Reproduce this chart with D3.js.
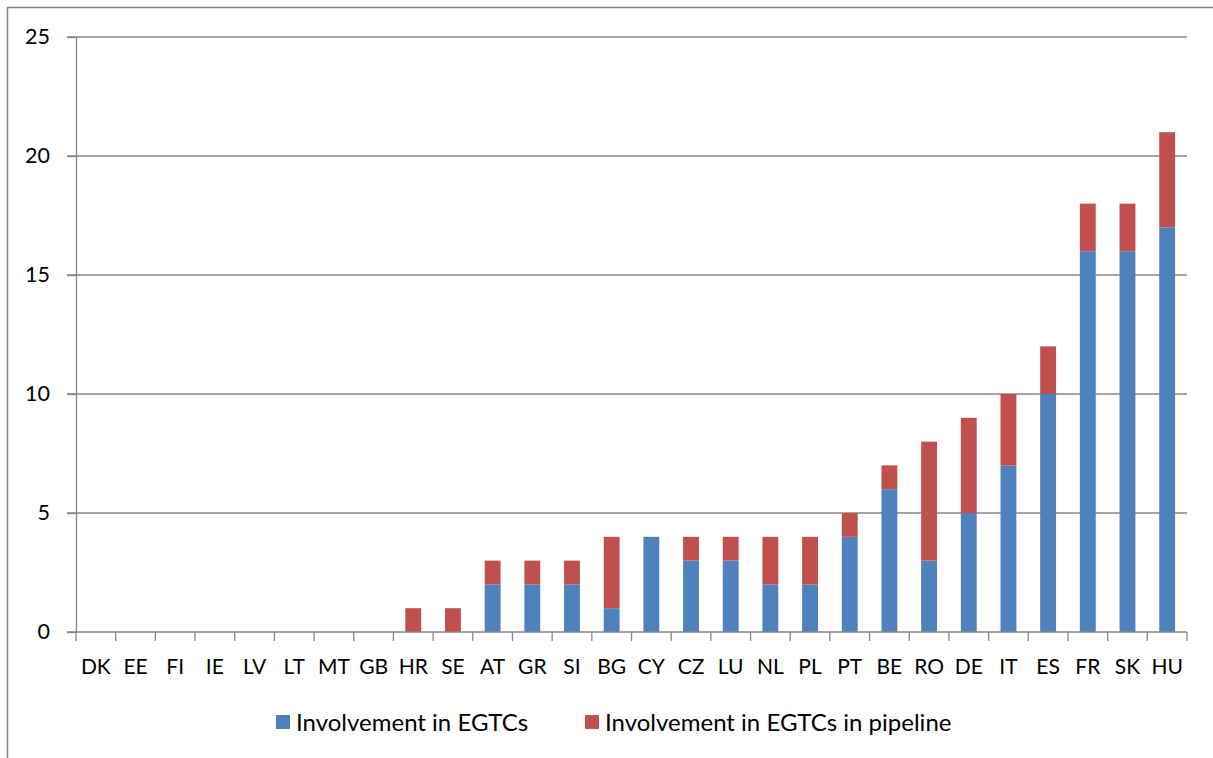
<!DOCTYPE html>
<html lang="en">
<head>
<meta charset="UTF-8">
<script src="https://d3js.org/d3.v7.min.js"></script>
<style>
  body { margin: 0; background: #fff; }
  text { font-family: Lato, "Open Sans", sans-serif; fill: #000; }
  .grid line { stroke: #868686; stroke-width: 1.3px; }
  .axis path, .axis line { stroke: #868686; stroke-width: 1.3px; }
</style>
</head>
<body>
<script>
// data
const countries = ["DK","EE","FI","IE","LV","LT","MT","GB","HR","SE","AT","GR","SI","BG","CY","CZ","LU","NL","PL","PT","BE","RO","DE","IT","ES","FR","SK","HU"];
const involved  = [0,0,0,0,0,0,0,0,0,0,2,2,2,1,4,3,3,2,2,4,6,3,5,7,10,16,16,17];
const pipeline  = [0,0,0,0,0,0,0,0,1,1,1,1,1,3,0,1,1,2,2,1,1,5,4,3,2,2,2,4];
const yTicks = [0,5,10,15,20,25];
const seriesNames = ["Involvement in EGTCs", "Involvement in EGTCs in pipeline"];
const seriesColors = ["#4F81BD", "#C0504D"];

const W = 1213, H = 758;
const plotL = 76, plotR = 1187, plotT = 37, plotB = 632;

const svg = d3.select("body").append("svg")
  .attr("width", W).attr("height", H);

// outer chart frame
svg.append("path")
  .attr("d", "M7.5," + H + "V7.5H" + W)
  .attr("fill", "none")
  .attr("stroke", "#868686")
  .attr("stroke-width", 1.5);

const x = d3.scaleBand().domain(countries).range([plotL, plotR]).paddingInner(0.6).paddingOuter(0.3);
const xTick = d3.scaleBand().domain(countries).range([plotL, plotR]);
const y = d3.scaleLinear().domain([0, 25]).range([plotB, plotT]);

// gridlines
svg.append("g").attr("class", "grid")
  .selectAll("line").data(yTicks.filter(d => d > 0)).join("line")
  .attr("x1", plotL - 9).attr("x2", plotR)
  .attr("y1", d => y(d)).attr("y2", d => y(d));

// y axis
const yAxis = svg.append("g").attr("class", "axis")
  .attr("transform", "translate(" + plotL + ",0)")
  .call(d3.axisLeft(y).tickValues(yTicks).tickSize(9).tickPadding(17).tickSizeOuter(0));
yAxis.selectAll("text").style("font-size", "21.5px");

// stacked bars
const rows = countries.map((c, i) => ({ c: c, a: involved[i], b: pipeline[i] }));
const stack = d3.stack().keys(["a", "b"])(rows);

svg.append("g").selectAll("g").data(stack).join("g")
  .attr("fill", (d, i) => seriesColors[i])
  .selectAll("rect").data(d => d).join("rect")
  .attr("x", d => x(d.data.c))
  .attr("width", x.bandwidth())
  .attr("y", d => y(d[1]))
  .attr("height", d => y(d[0]) - y(d[1]));

// x axis
const xg = svg.append("g").attr("class", "axis")
  .attr("transform", "translate(0," + plotB + ")");
xg.append("line").attr("x1", plotL - 9).attr("x2", plotR);
xg.selectAll(".tk").data(d3.range(countries.length + 1)).join("line")
  .attr("class", "tk")
  .attr("x1", i => plotL + i * xTick.step()).attr("x2", i => plotL + i * xTick.step())
  .attr("y1", 0).attr("y2", 9);
xg.selectAll("text").data(countries).join("text")
  .attr("x", d => xTick(d) + xTick.bandwidth() / 2)
  .attr("y", 42)
  .attr("text-anchor", "middle")
  .style("font-size", "21px")
  .text(d => d);

// legend
const legend = svg.append("g").attr("transform", "translate(0,722)");
const lx = [276, 585];
seriesNames.forEach((n, i) => {
  legend.append("rect")
    .attr("x", lx[i]).attr("y", -7).attr("width", 14).attr("height", 14)
    .attr("fill", seriesColors[i]);
  legend.append("text")
    .attr("x", lx[i] + 20).attr("y", 8.5)
    .style("font-size", "24px")
    .text(n);
});
</script>
</body>
</html>
